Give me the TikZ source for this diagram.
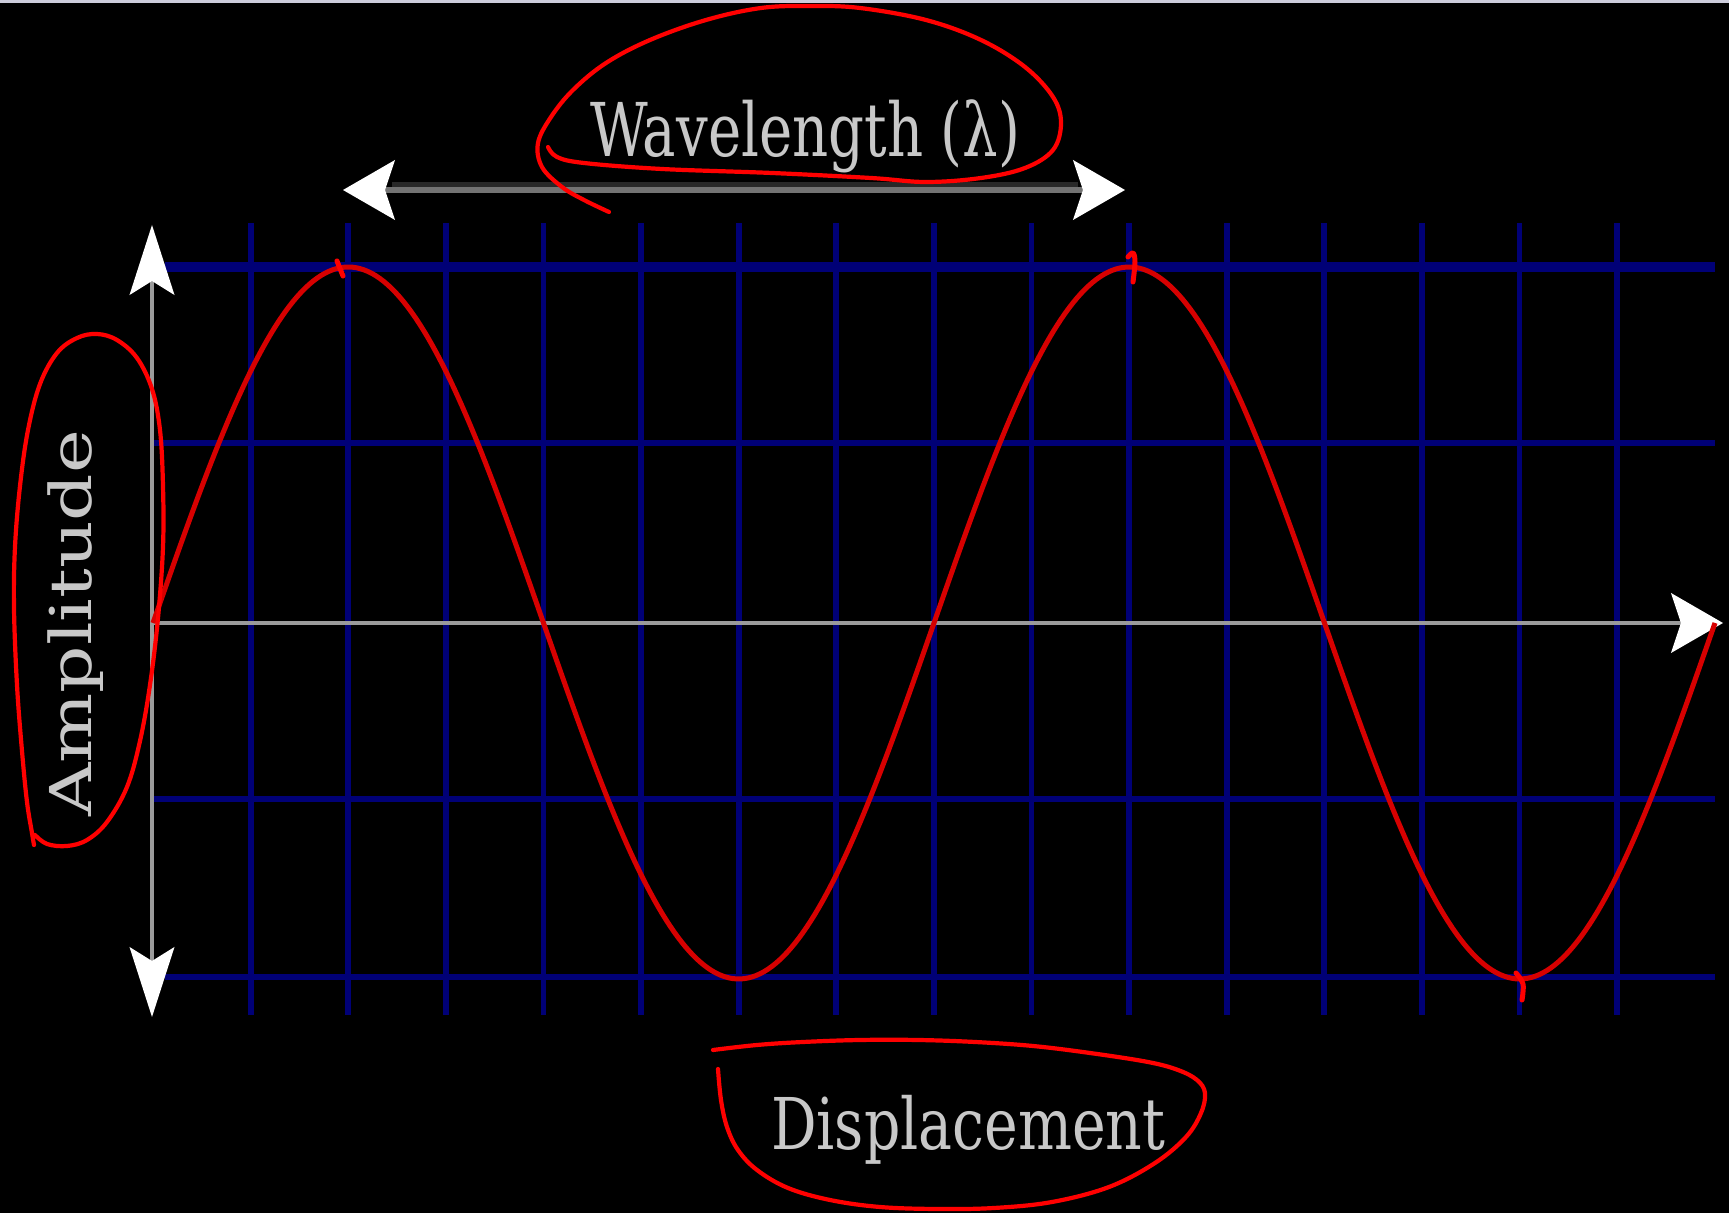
\documentclass[tikz,border=0pt]{standalone}
\usepackage{fontspec}
\setmainfont{DejaVu Serif}
\usetikzlibrary{arrows.meta}
\definecolor{gridblue}{RGB}{0,0,118}
\definecolor{axisgray}{RGB}{155,155,155}
\definecolor{wavered}{RGB}{215,0,0}
\definecolor{penred}{RGB}{255,0,0}
\definecolor{labelgray}{RGB}{200,200,200}
\definecolor{topline}{RGB}{205,205,220}
\definecolor{shaftdark}{RGB}{40,40,40}
\definecolor{shaftlight}{RGB}{115,115,115}
\tikzset{
  hhead/.tip={Stealth[white,length=0.52cm,width=0.60cm,inset=0.10cm,line width=0pt]},
  vhead/.tip={Stealth[white,length=0.70cm,width=0.45cm,inset=0.14cm,line width=0pt]},
}
\begin{document}
\begin{tikzpicture}[x=0.01cm,y=-0.01cm,
  gridline/.style={draw=gridblue,line width=0.058cm},
  axisline/.style={draw=axisgray,line width=0.045cm},
  labeltext/.style={inner sep=0pt,outer sep=0pt,text=labelgray},
  pen/.style={draw=penred,line width=0.042cm,line cap=round,line join=round},
  wave/.style={draw=wavered,line width=0.05cm,line join=round}]
% background and bounding box
\fill[black] (0,0) rectangle (1729,1213);
\useasboundingbox (0,0) rectangle (1729,1213);
\fill[topline] (0,0) rectangle (1729,3);
% grid
\foreach \k in {1,...,15}
  \draw[gridline] ({153+97.6*\k},223) -- ({153+97.6*\k},1015);
\draw[gridline,line width=0.10cm] (165,267) -- (1715,267);
\draw[gridline] (153,443) -- (1715,443);
\draw[gridline] (153,799) -- (1715,799);
\draw[gridline] (165,977) -- (1715,977);
% axes
\coordinate (ytop) at (152,225);
\coordinate (ybot) at (152,1017);
\coordinate (xorig) at (153,623);
\coordinate (xend) at (1723,623);
\draw[axisline,vhead-vhead] (ybot) -- (ytop);
\draw[axisline,-hhead] (xorig) -- (xend);
% wave
\draw[wave] plot[domain=153:1715,samples=400] (\x,{623-356*sin(0.460947*(\x-153))});
% wavelength arrow
\coordinate (wl) at (343,190);
\coordinate (wr) at (1125,190);
\coordinate (wdl) at (392,185);
\coordinate (wdr) at (1078,185);
\draw[shaftdark,line width=0.06cm] (wdl) -- (wdr);
\draw[shaftlight,line width=0.06cm,hhead-hhead] (wl) -- (wr);
% labels
\node[labeltext,anchor=base west] (wavelength) at (590,157)
  {\resizebox{4.30cm}{\height}{\fontsize{21.1}{25}\selectfont Wavelength (λ)}};
\node[labeltext,anchor=base west] (displacement) at (771,1150)
  {\resizebox{3.94cm}{\height}{\fontsize{20.3}{24}\selectfont Displacement}};
\node[labeltext,anchor=base west,rotate=90] (amplitude) at (92,817)
  {\resizebox{3.87cm}{\height}{\fontsize{16.4}{20}\selectfont Amplitude}};
% red hand-drawn annotations
\draw[pen] plot[smooth,tension=0.6] coordinates {
  (548,147) (557,157) (584,163) (662,169) (772,173) (871,178) (926,182)
  (981,178) (1025,168) (1053,150) (1061,123) (1053,97) (1025,67) (981,40)
  (926,20) (860,8) (810,6) (761,8) (706,20) (650,40) (606,63) (573,90)
  (551,117) (538,143) (542,167) (562,187) (584,200) (609,212)};
\draw[pen] plot[smooth,tension=0.6] coordinates {
  (35,835) (47,844) (67,846) (87,840) (107,822) (127,787) (140,741)
  (150,685) (158,618) (163,547) (163,486) (160,430) (152,389) (137,358)
  (117,340) (97,334) (77,338) (57,353) (40,384) (28,430) (20,486)
  (15,547) (14,608) (17,685) (22,751) (27,802) (32,833) (34,845)};
\draw[pen] plot[smooth,tension=0.6] coordinates {
  (718,1069) (721,1100) (727,1127) (738,1150) (757,1170) (788,1188)
  (830,1200) (880,1207) (937,1209) (994,1208) (1052,1202) (1109,1187)
  (1155,1163) (1186,1137) (1201,1113) (1205,1093) (1197,1080) (1178,1070)
  (1148,1062) (1090,1053) (1033,1046) (975,1042) (918,1040) (860,1040)
  (803,1042) (757,1045) (713,1050)};
\draw[pen,line width=0.05cm] (337,261) -- (343,276);
\draw[pen,line width=0.05cm] plot[smooth,tension=0.6] coordinates {
  (1128,257) (1133,253) (1135,262) (1133,282)};
\draw[pen,line width=0.05cm] plot[smooth,tension=0.6] coordinates {
  (1516,973) (1523,984) (1522,1000)};
\end{tikzpicture}
\end{document}
